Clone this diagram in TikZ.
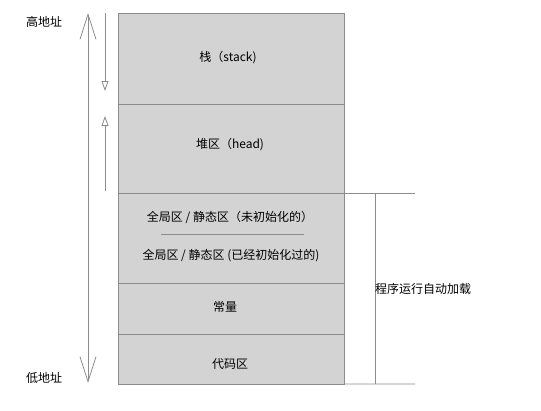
\documentclass[tikz,border=0pt]{standalone}
\usepackage{fontspec}
\setmainfont{Noto Sans CJK SC}
\usetikzlibrary{arrows.meta}
\definecolor{ln}{HTML}{8C8C8C}
\definecolor{fl}{HTML}{D3D3D3}
\tikzset{
  seg/.style={draw=ln, fill=fl, line width=1bp, anchor=north west, minimum width=226bp, inner sep=0pt, outer sep=0pt},
  lbl/.style={inner sep=0pt, font=\fontsize{12bp}{14bp}\selectfont, text=black},
  thin/.style={draw=ln, line width=0.8bp},
  bigarr/.style={thin, {Straight Barb[length=25bp,width=16bp,line width=0.8bp]}-{Straight Barb[length=25bp,width=16bp,line width=0.8bp]}},
  smallarr/.style={thin, -{Triangle[open,length=10bp,width=7bp,line width=0.8bp]}}
}
\begin{document}
\begin{tikzpicture}[x=1bp,y=-1bp]
\useasboundingbox (0,0) rectangle (541,410);
% segments
\node[seg, minimum height=91bp] (stack) at (118,13) {};
\node[seg, minimum height=89bp] (heap) at (118,104) {};
\node[seg, minimum height=90bp] (glob) at (118,193) {};
\node[seg, minimum height=51bp] (const) at (118,283) {};
\node[seg, minimum height=50bp] (code) at (118,334) {};
% texts
\node[lbl] (tstack) at (228,58) {栈（stack)};
\node[lbl] (theap) at (230,145) {堆区（head)};
\node[lbl] (tg1) at (230,217) {全局区 / 静态区（未初始化的）};
\node[lbl] (tg2) at (231,256) {全局区 / 静态区 (已经初始化过的)};
\node[lbl] (tconst) at (225,307) {常量};
\node[lbl] (tcode) at (230,364) {代码区};
\coordinate (sepL) at (161,234);
\coordinate (sepR) at (304,234);
\draw[ln, line width=0.6bp] (sepL) -- (sepR);
% bracket
\coordinate (bt0) at (glob.north east);
\coordinate (bt1) at (415,193);
\coordinate (bb0) at (code.south east);
\coordinate (bb1) at (415,384);
\coordinate (bv0) at (375,193);
\coordinate (bv1) at (375,384);
\draw[thin] (bt0) -- (bt1);
\draw[thin] (bb0) -- (bb1);
\draw[thin] (bv0) -- (bv1);
\node[lbl, anchor=west] (tload) at (375,289) {程序运行自动加载};
% address labels
\node[lbl] (thigh) at (44,22) {高地址};
\node[lbl] (tlow) at (44,378) {低地址};
% arrows
\coordinate (aTop) at (88,13);
\coordinate (aBot) at (88,383);
\draw[bigarr] (aTop) -- (aBot);
\coordinate (s0) at (105,13);
\coordinate (s1) at (105,91);
\draw[smallarr] (s0) -- (s1);
\coordinate (h0) at (105,191);
\coordinate (h1) at (105,116);
\draw[smallarr] (h0) -- (h1);
\end{tikzpicture}
\end{document}
